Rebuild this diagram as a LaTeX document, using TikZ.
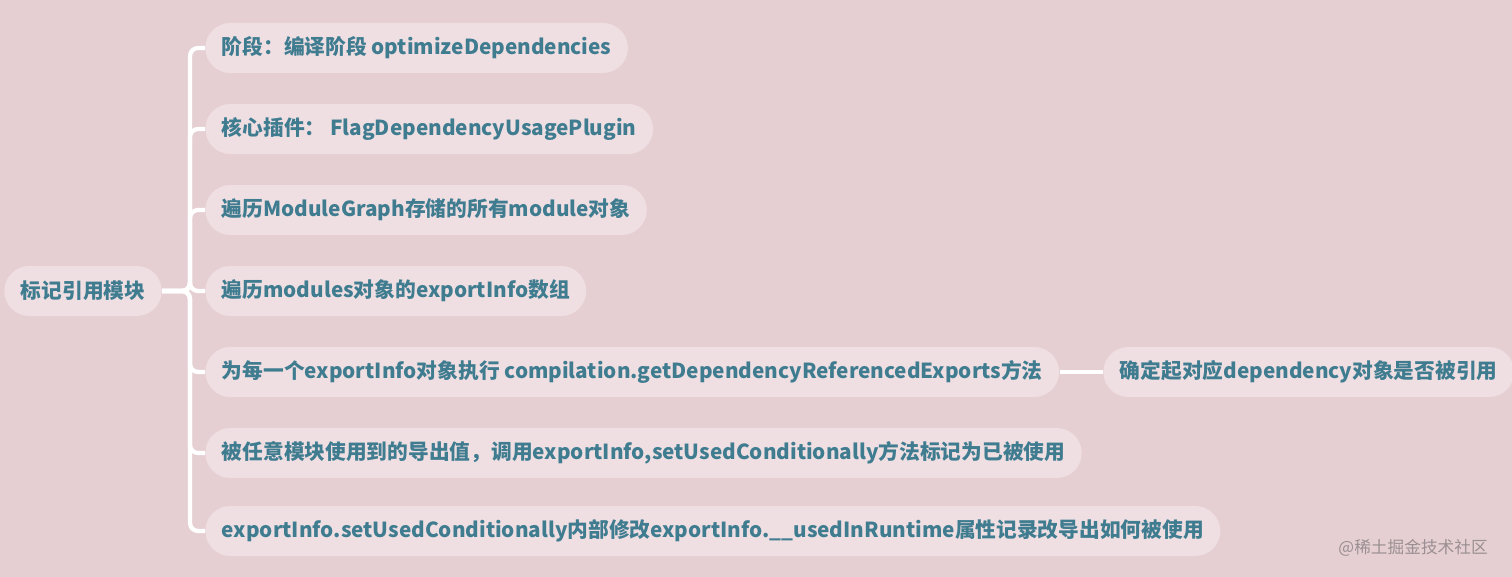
\documentclass[tikz,border=0pt]{standalone}
\usepackage{fontspec}
\setmainfont{Noto Sans CJK SC}
\definecolor{bgpink}{HTML}{E5CFD3}
\definecolor{pillpink}{HTML}{EFDFE2}
\definecolor{inkteal}{HTML}{3F7C90}
\definecolor{markgray}{HTML}{9A8F92}

\tikzstyle{topic} = [fill=pillpink, text=inkteal, rectangle,
  rounded corners=0.5cm, minimum height=1cm, inner xsep=0.33cm,
  font=\fontsize{11.8}{13}\selectfont\bfseries]
\tikzstyle{leaf} = [topic, anchor=west]
\tikzstyle{link} = [draw=white, line width=2.4pt, rounded corners=0.16cm]

\begin{document}
\begin{tikzpicture}[x=0.02cm, y=-0.02cm]
        \fill[bgpink] (0,0) rectangle (1512,577);
        \useasboundingbox (0,0) rectangle (1512,577);

        \node [topic] (root)    at (83, 291)  {标记引用模块};
        \node [leaf]  (stage)   at (205, 48)  {阶段：编译阶段 optimizeDependencies};
        \node [leaf]  (plugin)  at (205, 129) {核心插件： FlagDependencyUsagePlugin};
        \node [leaf]  (graph)   at (205, 210) {遍历ModuleGraph存储的所有module对象};
        \node [leaf]  (infos)   at (205, 291) {遍历modules对象的exportInfo数组};
        \node [leaf]  (refexp)  at (205, 372) {为每一个exportInfo对象执行 compilation.getDependencyReferencedExports方法};
        \node [leaf]  (mark)    at (205, 453) {被任意模块使用到的导出值，调用exportInfo,setUsedConditionally方法标记为已被使用};
        \node [leaf]  (runtime) at (205, 531) {exportInfo.setUsedConditionally内部修改exportInfo.\_\_usedInRuntime属性记录改导出如何被使用};
        \node [leaf]  (isref)   at (1103, 372) {确定起对应dependency对象是否被引用};
        \coordinate (trunk) at (190, 291);

        \foreach \kid in {stage,plugin,graph,infos,refexp,mark,runtime}
          \draw[link] (root.east) -- (trunk) |- (\kid.west);
        \draw[link] (refexp.east) -- (isref.west);

        \node [text=markgray, font=\fontsize{9.5}{11}\selectfont, anchor=east] (credit) at (1494, 548) {@稀土掘金技术社区};
      \end{tikzpicture}
\end{document}
